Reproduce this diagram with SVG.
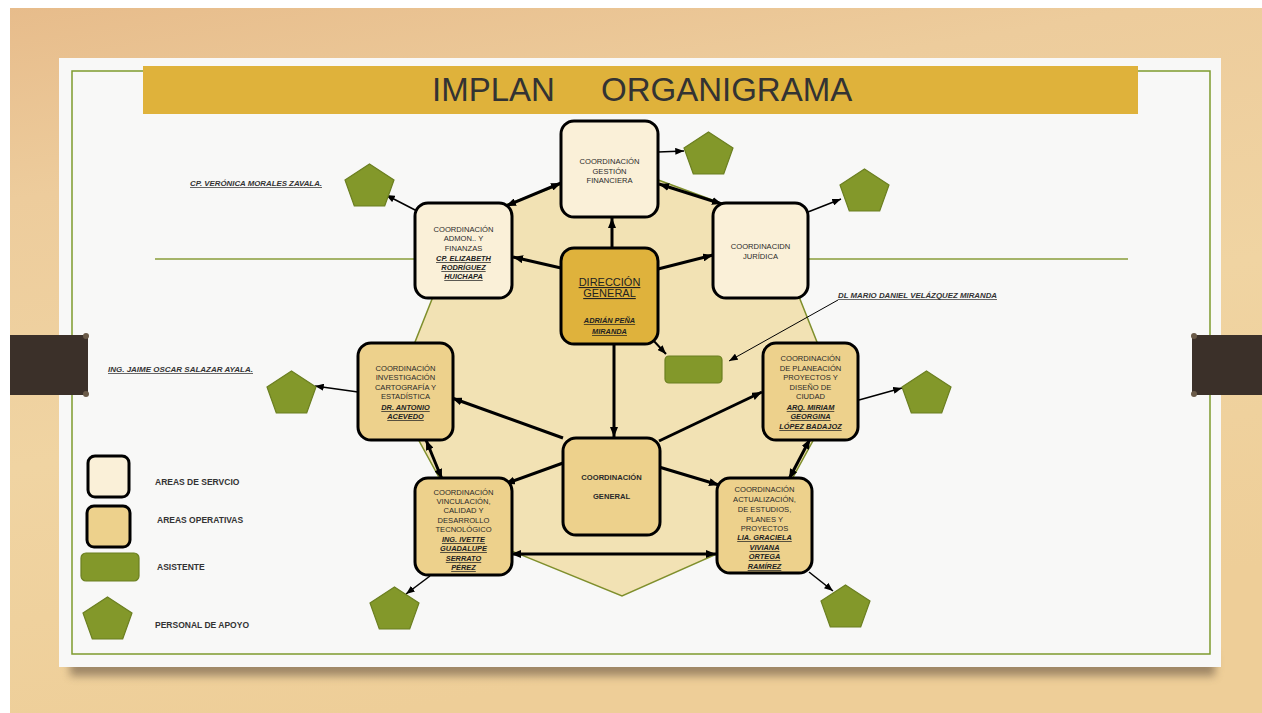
<svg xmlns="http://www.w3.org/2000/svg" width="1262" height="713" viewBox="0 0 1262 713">
<defs>
<linearGradient id="wood" x1="0" y1="0" x2="0.3" y2="1">
<stop offset="0" stop-color="#E7BC8B"/>
<stop offset="0.25" stop-color="#EDCC9C"/>
<stop offset="0.6" stop-color="#F0D4A2"/>
<stop offset="1" stop-color="#EECE98"/>
</linearGradient>
<filter id="blur" x="-5%" y="-100%" width="110%" height="300%"><feGaussianBlur stdDeviation="4"/></filter>
<marker id="ah" viewBox="0 0 10 8" refX="10" refY="4" markerWidth="10" markerHeight="8" markerUnits="userSpaceOnUse" orient="auto-start-reverse"><path d="M0,0 L10,4 L0,8 z" fill="#000"/></marker>
<marker id="as" viewBox="0 0 10 8" refX="10" refY="4" markerWidth="9" markerHeight="7" markerUnits="userSpaceOnUse" orient="auto-start-reverse"><path d="M0,0 L10,4 L0,8 z" fill="#000"/></marker>
<polygon id="pent" points="24.5,0 49,16 39.7,42 9.3,42 0,16" fill="#83982A" stroke="#6B7F20" stroke-width="1.2"/>
</defs>
<style>
.svc{fill:#FAF0D8;stroke:#000;stroke-width:3}
.ops{fill:#EDD18C;stroke:#000;stroke-width:3}
.dir{fill:#DFB23C;stroke:#000;stroke-width:3}
.asis{fill:#83982A;stroke:#6B7F20;stroke-width:1.2}
.t{font-family:"Liberation Sans",Arial,sans-serif;font-size:7.6px;fill:#2a2a2a;text-anchor:middle}
.n{font-family:"Liberation Sans",Arial,sans-serif;font-size:7.4px;fill:#222;text-anchor:middle;font-weight:bold;font-style:italic;text-decoration:underline}
.lab{font-family:"Liberation Sans",Arial,sans-serif;font-size:7.4px;fill:#333;font-weight:bold;font-style:italic;text-decoration:underline}
.leg{font-family:"Liberation Sans",Arial,sans-serif;font-size:8.5px;fill:#333;font-weight:bold}
.thick{fill:none;stroke:#000;stroke-width:3;marker-end:url(#ah)}
.both{marker-start:url(#ah)}
.thin{fill:none;stroke:#000;stroke-width:1.5;marker-end:url(#as)}
.hair{stroke-width:1}
.mid{stroke-width:2}
</style>
<!-- background -->
<rect x="0" y="0" width="1262" height="713" fill="#FFFFFF"/>
<rect x="10" y="8" width="1252" height="705" fill="url(#wood)"/>
<rect x="70" y="652" width="1145" height="24" fill="#5E4E3C" opacity="0.55" filter="url(#blur)"/>
<rect x="59" y="58" width="1162" height="609" fill="#F8F8F7"/>
<rect x="72" y="71" width="1138" height="583" fill="none" stroke="#7E9A2E" stroke-width="1.5"/>
<!-- side bars -->
<rect x="10" y="335" width="78" height="60" fill="#3B3029"/>
<circle cx="86" cy="336" r="3" fill="#6A5A48"/>
<circle cx="86" cy="394" r="3" fill="#6A5A48"/>
<rect x="1192" y="335" width="70" height="60" fill="#3B3029"/>
<circle cx="1194" cy="336" r="3" fill="#6A5A48"/>
<circle cx="1194" cy="394" r="3" fill="#6A5A48"/>
<!-- title -->
<g id="title">
<rect x="143" y="66" width="995" height="48" fill="#DFB23B"/>
<text font-family="'Liberation Sans',Arial,sans-serif" font-size="33" fill="#333"><tspan x="432" y="101">IMPLAN</tspan><tspan x="601" y="101">ORGANIGRAMA</tspan></text>
</g>
<line x1="155" y1="259" x2="1128" y2="259" stroke="#8A9E3A" stroke-width="1.5"/>
<!-- big shape -->
<polygon points="615,164 769,221 838,395 762,534 622,596 470,534 394,395 463,221" fill="#F2E2B4" stroke="#7F8F2C" stroke-width="1.5"/>
<!-- connectors -->
<g id="connectors">
<path class="thick" d="M612,248 L612,218"/>
<path class="thick" d="M561,268 L513,257"/>
<path class="thick" d="M658,269 L713,255"/>
<path class="thick both" d="M561,183 L506,206"/>
<path class="thick both" d="M659,184 L722,204"/>
<path class="thick" d="M614,345 L614,437"/>
<path class="thick" d="M563,438 L452,398"/>
<path class="thick" d="M659,441 L762,392"/>
<path class="thick" d="M563,463 L505,484"/>
<path class="thick" d="M659,467 L719,485"/>
<path class="thick both" d="M426,440 L442,479"/>
<path class="thick both" d="M810,439 L789,479"/>
<path class="thick both" d="M511,554 L716,554"/>
<path class="thin" d="M658,152 L684,151"/>
<path class="thin" d="M808,212 L841,199"/>
<path class="thin" d="M417,211 L386,195"/>
<path class="thin" d="M358,392 L315,386"/>
<path class="thin" d="M859,400 L902,388"/>
<path class="thin" d="M430,576 L406,594"/>
<path class="thin" d="M809,572 L833,591"/>
<path class="thin mid" d="M652,339 L666,354"/>
<path class="thin hair" d="M838,300 L729,361"/>
</g>
<!-- nodes -->
<g id="gestion">
<rect class="svc" x="561" y="121" width="97" height="96" rx="13"/>
<text class="t" x="609.5" y="164">COORDINACIÓN</text>
<text class="t" x="609.5" y="173.5">GESTIÓN</text>
<text class="t" x="609.5" y="183">FINANCIERA</text>
</g>
<g id="admon">
<rect class="svc" x="415" y="203" width="97" height="95" rx="13"/>
<text class="t" x="463.5" y="232">COORDINACIÓN</text>
<text class="t" x="463.5" y="241">ADMON.. Y</text>
<text class="t" x="463.5" y="251">FINANZAS</text>
<text class="n" x="463.5" y="261">CP. ELIZABETH</text>
<text class="n" x="463.5" y="270">RODRÍGUEZ</text>
<text class="n" x="463.5" y="279">HUICHAPA</text>
</g>
<g id="juridica">
<rect class="svc" x="713" y="203" width="95" height="95" rx="13"/>
<text class="t" x="760.5" y="249">COORDINACIDN</text>
<text class="t" x="760.5" y="259">JURÍDICA</text>
</g>
<g id="direccion">
<rect class="dir" x="561" y="248" width="97" height="96" rx="13"/>
<text x="609.5" y="286" font-family="'Liberation Sans',Arial,sans-serif" font-size="11" fill="#222" text-anchor="middle" text-decoration="underline">DIRECCIÓN</text>
<text x="609.5" y="297" font-family="'Liberation Sans',Arial,sans-serif" font-size="11" fill="#222" text-anchor="middle" text-decoration="underline">GENERAL</text>
<text class="n" x="609.5" y="323">ADRIÁN PEÑA</text>
<text class="n" x="609.5" y="334">MIRANDA</text>
</g>
<g id="asistente">
<rect class="asis" x="665" y="356" width="57" height="27" rx="4"/>
</g>
<g id="investigacion">
<rect class="ops" x="358" y="343" width="95" height="97" rx="13"/>
<text class="t" x="405.5" y="371">COORDINACIÓN</text>
<text class="t" x="405.5" y="380">INVESTIGACIÓN</text>
<text class="t" x="405.5" y="390">CARTOGRAFÍA Y</text>
<text class="t" x="405.5" y="399">ESTADÍSTICA</text>
<text class="n" x="405.5" y="410">DR. ANTONIO</text>
<text class="n" x="405.5" y="419">ACEVEDO</text>
</g>
<g id="planeacion">
<rect class="ops" x="763" y="343" width="95" height="97" rx="13"/>
<text class="t" x="810.5" y="361">COORDINACIÓN</text>
<text class="t" x="810.5" y="371">DE PLANEACIÓN</text>
<text class="t" x="810.5" y="380">PROYECTOS Y</text>
<text class="t" x="810.5" y="390">DISEÑO DE</text>
<text class="t" x="810.5" y="399">CIUDAD</text>
<text class="n" x="810.5" y="410">ARQ. MIRIAM</text>
<text class="n" x="810.5" y="419">GEORGINA</text>
<text class="n" x="810.5" y="429">LÓPEZ BADAJOZ</text>
</g>
<g id="coordgeneral">
<rect class="ops" x="563" y="438" width="97" height="97" rx="13"/>
<text class="t" x="611.5" y="480" font-weight="bold">COORDINACIÓN</text>
<text class="t" x="611.5" y="499" font-weight="bold">GENERAL</text>
</g>
<g id="vinculacion">
<rect class="ops" x="415" y="478" width="97" height="97" rx="13"/>
<text class="t" x="463.5" y="495">COORDINACIÓN</text>
<text class="t" x="463.5" y="504">VINCULACIÓN,</text>
<text class="t" x="463.5" y="513">CALIDAD Y</text>
<text class="t" x="463.5" y="523">DESARROLLO</text>
<text class="t" x="463.5" y="532">TECNOLÓGICO</text>
<text class="n" x="463.5" y="542">ING. IVETTE</text>
<text class="n" x="463.5" y="551">GUADALUPE</text>
<text class="n" x="463.5" y="561">SERRATO</text>
<text class="n" x="463.5" y="570">PÉREZ</text>
</g>
<g id="actualizacion">
<rect class="ops" x="717" y="478" width="95" height="95" rx="13"/>
<text class="t" x="764.5" y="492">COORDINACIÓN</text>
<text class="t" x="764.5" y="502">ACTUALIZACIÓN,</text>
<text class="t" x="764.5" y="512">DE ESTUDIOS,</text>
<text class="t" x="764.5" y="522">PLANES Y</text>
<text class="t" x="764.5" y="531">PROYECTOS</text>
<text class="n" x="764.5" y="540">LIA. GRACIELA</text>
<text class="n" x="764.5" y="550">VIVIANA</text>
<text class="n" x="764.5" y="559">ORTEGA</text>
<text class="n" x="764.5" y="569">RAMÍREZ</text>
</g>
<!-- support staff -->
<g id="apoyo1"><use href="#pent" x="684" y="132"/></g>
<g id="apoyo2"><use href="#pent" x="840" y="169"/></g>
<g id="apoyo3"><use href="#pent" x="345" y="164"/></g>
<g id="apoyo4"><use href="#pent" x="267" y="371"/></g>
<g id="apoyo5"><use href="#pent" x="902" y="371"/></g>
<g id="apoyo6"><use href="#pent" x="370" y="587"/></g>
<g id="apoyo7"><use href="#pent" x="821" y="585"/></g>
<!-- labels -->
<g id="labels">
<text class="lab" x="190" y="186" textLength="132" lengthAdjust="spacingAndGlyphs">CP. VERÓNICA MORALES ZAVALA.</text>
<text class="lab" x="108" y="372" textLength="145" lengthAdjust="spacingAndGlyphs">ING. JAIME OSCAR SALAZAR AYALA.</text>
<text class="lab" x="838" y="298" textLength="159" lengthAdjust="spacingAndGlyphs">DL MARIO DANIEL VELÁZQUEZ MIRANDA</text>
</g>
<!-- legend -->
<g id="legend">
<rect class="svc" x="88" y="456" width="41" height="41" rx="7"/>
<rect class="ops" x="87" y="506" width="43" height="41" rx="7"/>
<rect class="asis" x="81" y="553" width="58" height="28" rx="5"/>
<use href="#pent" x="83" y="597"/>
<text class="leg" x="155" y="485">AREAS DE SERVCIO</text>
<text class="leg" x="157" y="523">AREAS OPERATIVAS</text>
<text class="leg" x="157" y="570">ASISTENTE</text>
<text class="leg" x="155" y="628">PERSONAL DE APOYO</text>
</g>
</svg>
